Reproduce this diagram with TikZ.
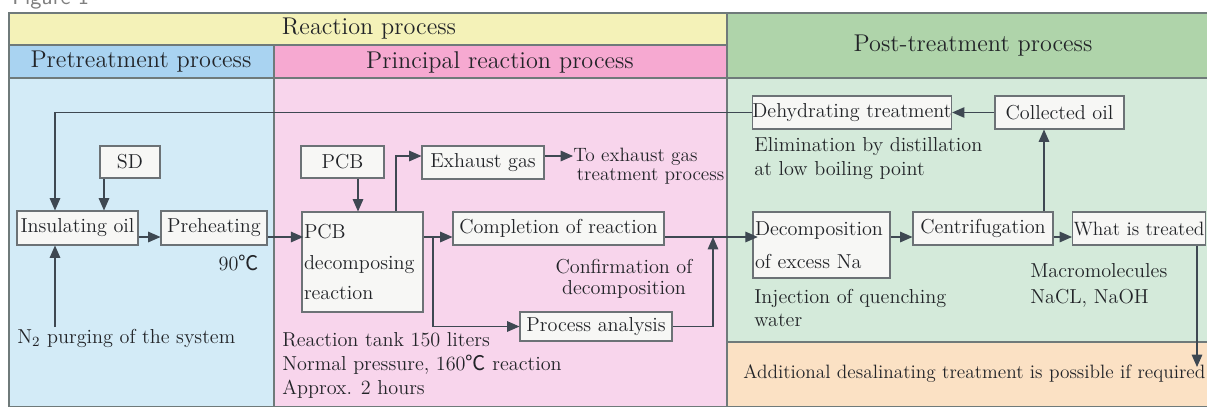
\documentclass[tikz,border=0pt]{standalone}
\usepackage{fontspec}
\newfontfamily\cjk{Noto Sans CJK JP}
\usetikzlibrary{arrows.meta}
\definecolor{yelh}{HTML}{F4F2B8}
\definecolor{blueh}{HTML}{A9D3F1}
\definecolor{blueb}{HTML}{D3EBF7}
\definecolor{pinkh}{HTML}{F6A9D1}
\definecolor{pinkb}{HTML}{F8D5EC}
\definecolor{greenh}{HTML}{AFD4AA}
\definecolor{greenb}{HTML}{D4EADA}
\definecolor{orangeb}{HTML}{FBE1C4}
\definecolor{framec}{HTML}{6F7A7A}
\definecolor{boxc}{HTML}{6C7276}
\definecolor{boxf}{HTML}{F7F7F5}
\definecolor{linec}{HTML}{3E4852}
\definecolor{txt}{HTML}{222428}
\newcommand\pxu{0.02cm}
\newcommand\degc{{\cjk ℃}}
\newcommand\bodyfont{\fontsize{11.5}{14}\selectfont}
\begin{document}
\begin{tikzpicture}[x=0.02cm,y=-0.02cm,
  pbox/.style={draw=boxc, fill=boxf, line width=0.6pt, inner sep=0pt, font=\bodyfont, text=txt},
  lbl/.style={inner sep=0pt, font=\bodyfont, text=txt},
  hdr/.style={inner sep=0pt, font=\fontsize{13.8}{16}\selectfont, text=txt},
  region/.style={draw=framec, line width=0.6pt},
  arr/.style={draw=linec, line width=0.6pt, -{Triangle[length=7pt,width=6pt]}},
  ln/.style={draw=linec, line width=0.6pt}]
\useasboundingbox (0,0) rectangle (1207,406);
\fill[white] (0,0) rectangle (1207,406);
% regions
\filldraw[region, fill=blueb] (9,78) rectangle (274,407);
\filldraw[region, fill=pinkb] (274,78) rectangle (727,407);
\filldraw[region, fill=greenb] (727,78) rectangle (1208,342);
\filldraw[region, fill=orangeb] (727,342) rectangle (1208,407);
\filldraw[region, fill=yelh] (9,13) rectangle (727,45);
\filldraw[region, fill=blueh] (9,45) rectangle (274,78);
\filldraw[region, fill=pinkh] (274,45) rectangle (727,78);
\filldraw[region, fill=greenh] (727,13) rectangle (1208,78);
% figure caption (cut off at the top edge)
\node[anchor=base west, inner sep=0pt, font=\sffamily\fontsize{13}{13}\selectfont, text=gray] (fig) at (12,4) {Figure 1};
% headers
\node[hdr] (hreact) at (369,29) {Reaction process};
\node[hdr] (hpre) at (141,62) {Pretreatment process};
\node[hdr] (hprin) at (500,62) {Principal reaction process};
\node[hdr] (hpost) at (973,46) {Post-treatment process};
% coordinates
\coordinate (ml) at (0,237);
\coordinate (fbx) at (55,0);
\coordinate (sdx) at (104,0);
\coordinate (pcbx) at (358,0);
\coordinate (exx) at (396,0);
\coordinate (exy) at (0,156);
\coordinate (brx) at (433,0);
\coordinate (upx) at (713,0);
\coordinate (ccx) at (1044,0);
\coordinate (wdx) at (1197,0);
\coordinate (n2top) at (55,327);
\coordinate (wdend) at (1197,367);
% boxes
\node[pbox, minimum width=121*\pxu, minimum height=34*\pxu] (ins) at (77.5,228) {Insulating oil};
\node[pbox, minimum width=60*\pxu, minimum height=32*\pxu] (sd) at (130,162) {SD};
\node[pbox, minimum width=106*\pxu, minimum height=34*\pxu] (pre) at (214,228) {Preheating};
\node[pbox, minimum width=83*\pxu, minimum height=32*\pxu] (pcb) at (342.5,162) {PCB};
\node[pbox, minimum width=121*\pxu, minimum height=100*\pxu, text width=117*\pxu, align=left, font=\fontsize{11.5}{17.5}\selectfont] (pcbr) at (362.5,262) {PCB\\decomposing\\reaction};
\node[pbox, minimum width=122*\pxu, minimum height=33*\pxu] (exh) at (483,162.5) {Exhaust gas};
\node[pbox, minimum width=211*\pxu, minimum height=33*\pxu] (comp) at (558.5,228.5) {Completion of reaction};
\node[pbox, minimum width=152*\pxu, minimum height=29*\pxu] (proc) at (596,326.5) {Process analysis};
\node[pbox, minimum width=198*\pxu, minimum height=33*\pxu] (dehy) at (852,112.5) {Dehydrating treatment};
\node[pbox, minimum width=129*\pxu, minimum height=33*\pxu] (coll) at (1059.5,112.5) {Collected oil};
\node[pbox, minimum width=137*\pxu, minimum height=66*\pxu, text width=133*\pxu, align=left, font=\fontsize{11.5}{19}\selectfont] (decna) at (821.5,245) {Decomposition\\of excess Na};
\node[pbox, minimum width=140*\pxu, minimum height=33*\pxu] (cent) at (983,228.5) {Centrifugation};
\node[pbox, minimum width=133*\pxu, minimum height=33*\pxu, font=\fontsize{11}{13}\selectfont] (what) at (1139,228.5) {What is treated};
% labels
\node[lbl, anchor=base east] (t90) at (259,270) {90\degc};
\node[lbl, anchor=base west] (n2) at (17,343) {N$_2$ purging of the system};
\node[lbl, anchor=north west, align=left, font=\fontsize{11.5}{13.6}\selectfont] (tank) at (282,332) {Reaction tank 150 liters\\Normal pressure, 160\degc\ reaction\\Approx. 2 hours};
\node[lbl, align=center, font=\fontsize{11.5}{12}\selectfont] (conf) at (624,279) {Confirmation of\\decomposition};
\node[lbl, anchor=north west, align=left, font=\fontsize{11}{10.5}\selectfont] (toex) at (573,148) {To exhaust gas\\\hspace*{2pt}treatment process};
\node[lbl, anchor=north west, align=left, font=\fontsize{11.5}{14}\selectfont] (elim) at (754,137) {Elimination by distillation\\at low boiling point};
\node[lbl, anchor=north west, align=left, font=\fontsize{11.5}{13}\selectfont] (inj) at (754,289) {Injection of quenching\\water};
\node[lbl, anchor=north west, align=left, font=\fontsize{11.5}{14.7}\selectfont] (macro) at (1030,263) {Macromolecules\\NaCL, NaOH};
\node[lbl, anchor=base west, font=\fontsize{11}{13}\selectfont] (addl) at (743,378) {Additional desalinating treatment is possible if required};
% connectors
\draw[arr] (ins.east |- ml) -- (pre.west |- ml);
\draw[arr] (pre.east |- ml) -- ([xshift=1pt]pcbr.west |- ml);
\draw[arr] (sdx |- sd.south) -- (sdx |- ins.north);
\draw[arr] (dehy.west) -| (fbx |- ins.north);
\draw[arr] (n2top) -- (fbx |- ins.south);
\draw[arr] (pcbx |- pcb.south) -- (pcbx |- pcbr.north);
\draw[arr] (exx |- pcbr.north) |- (exh.west |- exy);
\draw[arr] (exh.east |- exy) -- (toex.west |- exy);
\draw[arr] (pcbr.east |- ml) -- (comp.west |- ml);
\draw[arr] (brx |- ml) |- (proc.west);
\draw[arr] (proc.east) -| (upx |- ml);
\draw[arr] (comp.east |- ml) -- ([xshift=3pt]decna.west |- ml);
\draw[arr] (decna.east |- ml) -- (cent.west |- ml);
\draw[arr] (cent.east |- ml) -- (what.west |- ml);
\draw[arr] (ccx |- cent.north) -- (ccx |- coll.south);
\draw[arr] (coll.west) -- (dehy.east);
\draw[arr] (wdx |- what.south) -- (wdend);
\end{tikzpicture}
\end{document}
